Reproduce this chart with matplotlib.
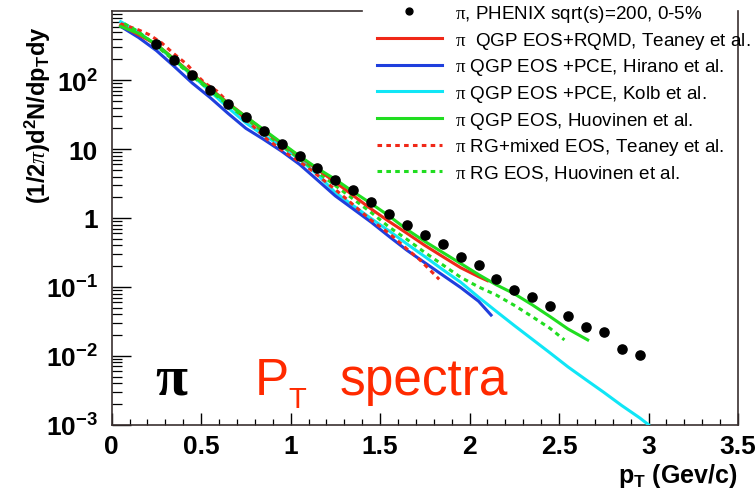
import numpy as np
import matplotlib
matplotlib.use("Agg")
import matplotlib.pyplot as plt
from matplotlib.ticker import FixedLocator, MultipleLocator, NullFormatter, LogLocator

plt.rcParams['font.family'] = ['Liberation Sans', 'DejaVu Sans']
plt.rcParams['mathtext.fontset'] = 'custom'
plt.rcParams['mathtext.rm'] = 'Liberation Serif'
plt.rcParams['mathtext.it'] = 'Liberation Serif:italic'
plt.rcParams['mathtext.default'] = 'regular'

# PHENIX pion spectrum, 0-5% central
pt_data = [0.25, 0.35, 0.45, 0.55, 0.65, 0.75, 0.85, 0.95, 1.05, 1.15, 1.25, 1.35, 1.45, 1.55,
           1.65, 1.75, 1.85, 1.95, 2.05, 2.15, 2.25, 2.35, 2.45, 2.55, 2.65, 2.75, 2.85, 2.95]
y_data = [337, 195, 118, 72.6, 44.5, 29.1, 18.2, 12.0, 7.92, 5.25, 3.56, 2.52, 1.71, 1.13,
          0.79, 0.568, 0.416, 0.275, 0.206, 0.132, 0.0895, 0.0716, 0.0531, 0.0372, 0.0261,
          0.0223, 0.0125, 0.0102]

# hydro curves
pt_teaney_rqmd = [0.05, 0.25, 0.45, 0.65, 0.85, 1.05, 1.25, 1.45, 1.55, 1.65, 1.75, 1.85, 1.95, 2.05, 2.10]
y_teaney_rqmd = [630, 331, 123, 46.8, 18.6, 7.76, 3.31, 1.35, 0.89, 0.60, 0.40, 0.275, 0.19, 0.141, 0.123]

pt_hirano = [0.05, 0.15, 0.25, 0.35, 0.45, 0.55, 0.65, 0.75, 0.85, 0.95, 1.05, 1.15, 1.25, 1.35,
             1.45, 1.55, 1.65, 1.75, 1.85, 1.95, 2.05, 2.12]
y_hirano = [603, 417, 269, 158, 91, 56, 33, 20, 13.8, 9.3, 6.0, 3.55, 2.09, 1.35,
            0.87, 0.54, 0.34, 0.224, 0.148, 0.098, 0.062, 0.039]

pt_kolb = [0.05, 0.15, 0.25, 0.35, 0.45, 0.55, 0.65, 0.75, 0.85, 0.95, 1.05, 1.15, 1.25, 1.35,
           1.45, 1.55, 1.65, 1.75, 1.85, 1.95, 2.05, 2.15, 2.25, 2.35, 2.45, 2.55, 2.65, 2.75,
           2.85, 2.95, 3.00]
y_kolb = [708, 501, 316, 195, 117, 69, 40, 24, 15.8, 11.0, 7.1, 4.27, 2.34, 1.51,
          0.98, 0.65, 0.42, 0.275, 0.178, 0.117, 0.071, 0.044, 0.0275, 0.0174, 0.011, 0.0069,
          0.0045, 0.00295, 0.0019, 0.00126, 0.001]

pt_huov_qgp = [0.05, 0.15, 0.25, 0.35, 0.45, 0.55, 0.65, 0.75, 0.85, 0.95, 1.05, 1.15, 1.25, 1.35,
               1.45, 1.55, 1.65, 1.75, 1.85, 1.95, 2.05, 2.15, 2.25, 2.35, 2.45, 2.55, 2.66]
y_huov_qgp = [603, 479, 331, 200, 120, 74, 45.7, 29.5, 19.1, 12.3, 7.9, 5.25, 3.63, 2.40,
              1.62, 1.07, 0.68, 0.457, 0.316, 0.219, 0.151, 0.107, 0.0794, 0.055, 0.037, 0.0245, 0.017]

pt_teaney_rg = [0.05, 0.15, 0.21, 0.28, 0.34, 0.42, 0.48, 0.52, 0.59, 0.65, 0.75, 0.87, 0.96, 1.09,
                1.27, 1.45, 1.55, 1.65, 1.72, 1.83]
y_teaney_rg = [661, 537, 457, 347, 251, 170, 115, 91, 69, 47.9, 26.9, 13.8, 9.3, 5.6,
               2.34, 0.93, 0.60, 0.355, 0.25, 0.129]

pt_huov_rg = [0.07, 0.14, 0.25, 0.45, 0.65, 0.85, 1.05, 1.25, 1.45, 1.55, 1.65, 1.75, 1.85, 1.95,
              2.05, 2.15, 2.25, 2.35, 2.45, 2.53]
y_huov_rg = [661, 525, 316, 115, 43.7, 17.4, 7.24, 2.95, 1.2, 0.74, 0.49, 0.316, 0.209, 0.138,
             0.1, 0.076, 0.054, 0.037, 0.025, 0.017]

y_ticks = [1e-3, 1e-2, 1e-1, 1, 10, 100]
y_ticklabels = ['10$^{-3}$', '10$^{-2}$', '10$^{-1}$', '1', '10', '10$^{2}$']
x_ticks = [0, 0.5, 1, 1.5, 2, 2.5, 3, 3.5]
x_ticklabels = ['0', '0.5', '1', '1.5', '2', '2.5', '3', '3.5']

red = '#f02818'
blue = '#1f3fdd'
cyan = '#10e6f6'
green = '#20dd20'
dots = (0, (1.5, 1.4))

fig = plt.figure(figsize=(7.56, 4.89), dpi=100)
ax = fig.add_axes([111.7 / 756, 1 - 425.7 / 489, (738 - 111.7) / 756, (425.7 - 12.3) / 489])

l_kolb, = ax.plot(pt_kolb, y_kolb, color=cyan, lw=2.2, zorder=3)
l_hirano, = ax.plot(pt_hirano, y_hirano, color=blue, lw=2.2, zorder=3)
l_teaney_rg, = ax.plot(pt_teaney_rg, y_teaney_rg, color=red, lw=2.2, ls=dots, zorder=3)
l_huov_rg, = ax.plot(pt_huov_rg, y_huov_rg, color=green, lw=2.2, ls=dots, zorder=3)
l_teaney, = ax.plot(pt_teaney_rqmd, y_teaney_rqmd, color=red, lw=2.2, zorder=3)
l_huov, = ax.plot(pt_huov_qgp, y_huov_qgp, color=green, lw=2.2, zorder=3)
l_data, = ax.plot(pt_data, y_data, 'o', color='black', ms=6.6, zorder=4, ls='none')

ax.set_yscale('log')
ax.set_xlim(0, 3.5)
ax.set_ylim(1e-3, 1e3)

ax.yaxis.set_major_locator(FixedLocator(y_ticks))
ax.set_yticklabels(y_ticklabels)
ax.yaxis.set_minor_locator(LogLocator(base=10, subs=np.arange(2, 10)))
ax.yaxis.set_minor_formatter(NullFormatter())
ax.xaxis.set_major_locator(FixedLocator(x_ticks))
ax.set_xticklabels(x_ticklabels)
ax.xaxis.set_minor_locator(MultipleLocator(0.1))

ax.tick_params(axis='y', which='major', direction='in', length=13.5, width=1, pad=10,
               labelsize=19, right=False)
ax.tick_params(axis='y', which='minor', direction='in', length=7, width=0.9, right=False)
ax.tick_params(axis='x', which='major', direction='in', length=8.5, width=1, pad=7,
               labelsize=19, top=False)
ax.tick_params(axis='x', which='minor', direction='in', length=4.3, width=0.9, top=False)
for lab in ax.get_xticklabels() + ax.get_yticklabels():
    lab.set_fontweight('bold')

for side in ['left', 'bottom', 'right']:
    ax.spines[side].set_color('#3a3030')
    ax.spines[side].set_linewidth(1.2)
ax.spines['top'].set_visible(False)
ax.plot([0, 0.4], [1, 1], transform=ax.transAxes, color='#3a3030', lw=1.2, clip_on=False)

fig.text(38 / 756, 1 - 115 / 489, r'(1/2$\mathit{\pi}$)d$^{2}$N/dp$_{T}$dy', rotation=90,
         ha='center', va='center', fontsize=17, fontweight='bold')
fig.text(737 / 756, 6 / 489, 'p$_{T}$ (Gev/c)', ha='right', va='baseline',
         fontsize=18, fontweight='bold')

ax.text(0.242, 0.00279, 'π', family='Liberation Serif', fontsize=42, fontweight='bold',
        va='baseline', color='black')
ax.text(0.80, 0.00279, 'P', fontsize=37, va='baseline', color='#ff2a00')
ax.text(0.985, 0.0018, 'T', fontsize=21, va='baseline', color='#ff2a00')
ax.text(1.275, 0.00279, 'spectra', fontsize=37, va='baseline', color='#ff2a00')

handles = [l_data, l_teaney, l_hirano, l_kolb, l_huov, l_teaney_rg, l_huov_rg]
labels = [r'$\mathrm{\pi}$, PHENIX sqrt(s)=200, 0-5%',
          r'$\mathrm{\pi}$  QGP EOS+RQMD, Teaney et al.',
          r'$\mathrm{\pi}$ QGP EOS +PCE, Hirano et al.',
          r'$\mathrm{\pi}$ QGP EOS +PCE, Kolb et al.',
          r'$\mathrm{\pi}$ QGP EOS, Huovinen et al.',
          r'$\mathrm{\pi}$ RG+mixed EOS, Teaney et al.',
          r'$\mathrm{\pi}$ RG EOS, Huovinen et al.']
fig.legend(handles, labels, loc='upper left', bbox_to_anchor=(377 / 756, 1 - 4 / 489),
           frameon=False, fontsize=13.6, handlelength=3.44, handletextpad=0.69,
           labelspacing=0.3, borderpad=0, borderaxespad=0, markerscale=0.75)

fig.savefig('out.png', dpi=100)
